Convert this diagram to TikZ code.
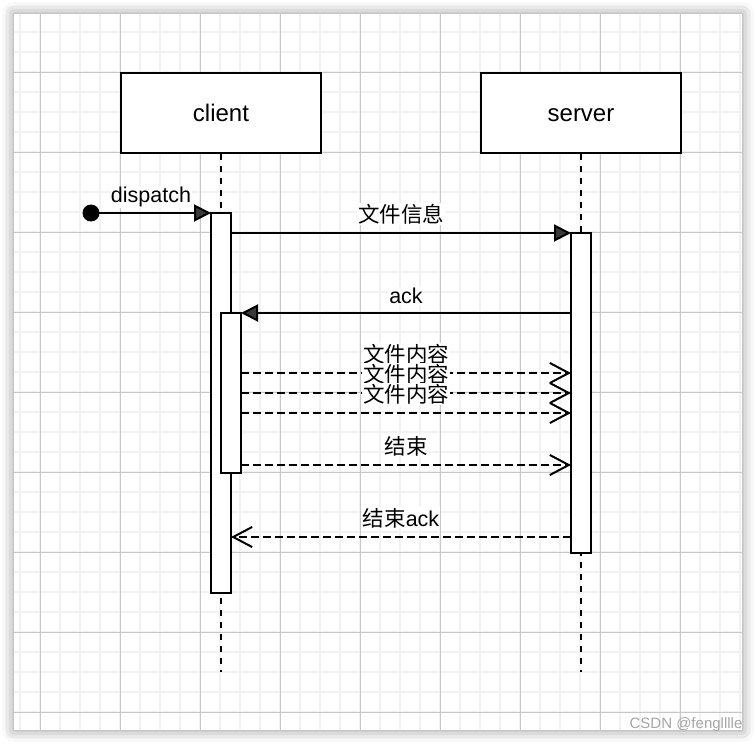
\documentclass[tikz,border=0pt]{standalone}
\usepackage{fontspec}
\setmainfont{Liberation Sans}
\newfontfamily\cjk{Noto Sans CJK SC}
\usetikzlibrary{arrows.meta,shadows.blur}

\tikzset{
  actor/.style={draw, line width=2pt, fill=white, minimum width=200pt,
    minimum height=80pt, text height=20pt, text depth=4pt,
    font=\fontsize{24}{28}\selectfont},
  bar/.style={draw, line width=2pt, fill=white, minimum width=20pt,
    inner sep=0pt, outer sep=0pt},
  lifeline/.style={line width=2pt, dash pattern=on 6pt off 6pt},
  sync/.style={line width=2pt, -{Triangle[length=17pt,width=17pt]}},
  reply/.style={line width=2pt, dash pattern=on 8pt off 4pt,
    -{Straight Barb[length=19pt,width=20pt,line join=miter,line cap=butt]}},
  msg/.style={fill=white, inner sep=1pt, font=\fontsize{21.5}{26}\selectfont},
}

\begin{document}
\begin{tikzpicture}[x=1pt, y=-1pt]
  \useasboundingbox (0,0) rectangle (756,744);
  % Sheet with its shadow, then the grid.
  \fill[white, blur shadow={shadow xshift=0pt, shadow yshift=0pt,
    shadow blur radius=12pt, shadow opacity=45}] (14,14) rectangle (742,730);
  \begin{scope}
    \clip (14,14) rectangle (742,730);
    \foreach \x in {20,40,...,740} \draw[black!5, line width=2pt] (\x,14) -- (\x,730);
    \foreach \y in {12,32,...,732} \draw[black!5, line width=2pt] (14,\y) -- (742,\y);
    \foreach \x in {40,120,...,680} \draw[black!22, line width=1pt] (\x,14) -- (\x,730);
    \foreach \y in {72,152,...,712} \draw[black!22, line width=1pt] (14,\y) -- (742,\y);
  \end{scope}

  % Participants and their lifelines.
  \node[actor] (client) at (221,113) {client};
  \node[actor] (server) at (581,113) {server};
  \coordinate (cend) at (221,672);
  \coordinate (send) at (581,672);
  \draw[lifeline] (client.south) -- (cend);
  \draw[lifeline] (server.south) -- (send);

  % Activation bars.
  \node[bar, minimum height=380pt] (cbar) at (221,403) {};
  \node[bar, minimum height=320pt] (sbar) at (581,393) {};
  \node[bar, minimum height=160pt] (ibar) at (231,393) {};

  % Found message.
  \node[circle, fill, inner sep=0pt, minimum size=17pt] (start) at (91,213) {};
  \draw[sync] (start.center) -- (cbar.north west)
    node[msg, midway, yshift=16pt] (ldispatch) {dispatch};

  % Messages.
  \draw[sync] (cbar.east |- sbar.north) -- (sbar.north west)
    node[msg, midway, yshift=19pt] (linfo) {\cjk 文件信息};
  \draw[sync] (sbar.west |- ibar.north) -- (ibar.north east)
    node[msg, midway, yshift=17pt] (lack) {ack};
  \draw[reply] (ibar.east |- 0,373) -- (sbar.west |- 0,373)
    node[msg, midway, yshift=19pt] (lpart1) {\cjk 文件内容};
  \draw[reply] (ibar.east |- 0,393) -- (sbar.west |- 0,393)
    node[msg, midway, yshift=19pt] (lpart2) {\cjk 文件内容};
  \draw[reply] (ibar.east |- 0,413) -- (sbar.west |- 0,413)
    node[msg, midway, yshift=19pt] (lpart3) {\cjk 文件内容};
  \draw[reply] (ibar.east |- 0,465) -- (sbar.west |- 0,465)
    node[msg, midway, yshift=19pt] (lend) {\cjk 结束};
  \draw[reply] (sbar.west |- 0,537) -- (cbar.east |- 0,537)
    node[msg, midway, yshift=19pt] (lendack) {{\cjk 结束}ack};

  % Watermark.
  \node[text=black!35, font=\fontsize{15}{18}\selectfont] (mark) at (686,725) {CSDN @fenglllle};
\end{tikzpicture}
\end{document}
